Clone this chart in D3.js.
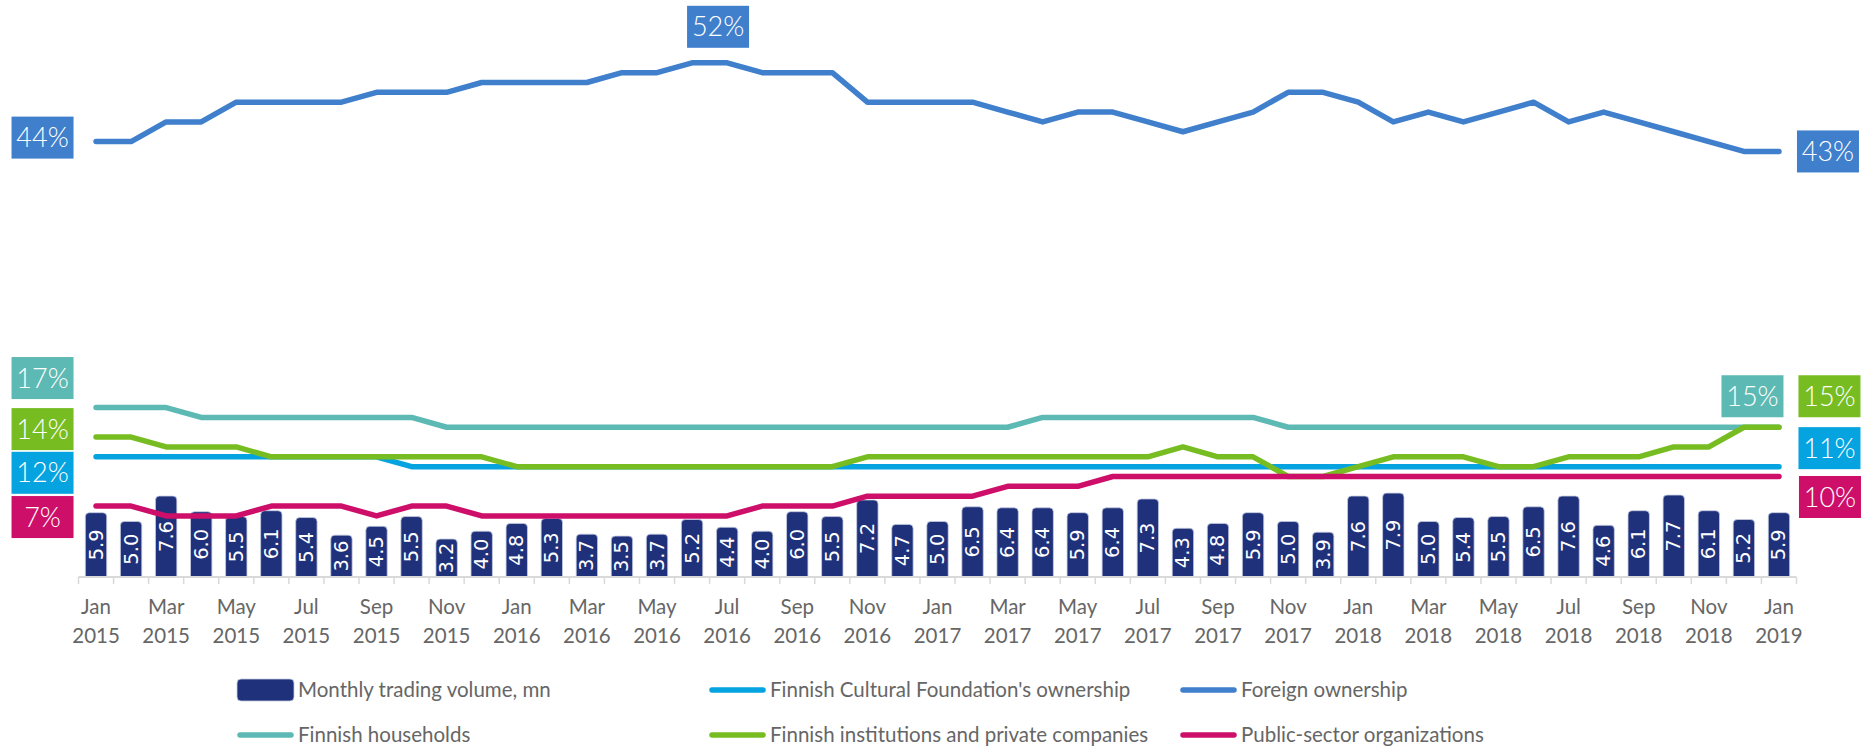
<!DOCTYPE html>
<html>
<head>
<meta charset="utf-8">
<script src="https://cdn.jsdelivr.net/npm/d3@7/dist/d3.min.js"></script>
<style>
  html,body{margin:0;padding:0;background:#fff;}
  svg{display:block;}
  .txt{font-family:Lato,"Open Sans",sans-serif;font-weight:400;}
  .box{font-family:Lato,"Open Sans",sans-serif;font-weight:300;}
</style>
</head>
<body>
<div id="chart"></div>
<script>
// months on the x axis
const months = [
  "Jan 2015","Feb 2015","Mar 2015","Apr 2015","May 2015","Jun 2015","Jul 2015","Aug 2015","Sep 2015","Oct 2015","Nov 2015","Dec 2015",
  "Jan 2016","Feb 2016","Mar 2016","Apr 2016","May 2016","Jun 2016","Jul 2016","Aug 2016","Sep 2016","Oct 2016","Nov 2016","Dec 2016",
  "Jan 2017","Feb 2017","Mar 2017","Apr 2017","May 2017","Jun 2017","Jul 2017","Aug 2017","Sep 2017","Oct 2017","Nov 2017","Dec 2017",
  "Jan 2018","Feb 2018","Mar 2018","Apr 2018","May 2018","Jun 2018","Jul 2018","Aug 2018","Sep 2018","Oct 2018","Nov 2018","Dec 2018",
  "Jan 2019"
];

// monthly trading volume, mn
const volume = [
  5.9,5.0,7.6,6.0,5.5,6.1,5.4,3.6,4.5,5.5,3.2,4.0,
  4.8,5.3,3.7,3.5,3.7,5.2,4.4,4.0,6.0,5.5,7.2,4.7,
  5.0,6.5,6.4,6.4,5.9,6.4,7.3,4.3,4.8,5.9,5.0,3.9,
  7.6,7.9,5.0,5.4,5.5,6.5,7.6,4.6,6.1,7.7,6.1,5.2,
  5.9
];

// ownership shares, %
const cultural = [
  12,12,12,12,12,12,12,12,12,11,11,11,
  11,11,11,11,11,11,11,11,11,11,11,11,
  11,11,11,11,11,11,11,11,11,11,11,11,
  11,11,11,11,11,11,11,11,11,11,11,11,
  11
];
const foreign = [
  44,44,46,46,48,48,48,48,49,49,49,50,
  50,50,50,51,51,52,52,51,51,51,48,48,
  48,48,47,46,47,47,46,45,46,47,49,49,
  48,46,47,46,47,48,46,47,46,45,44,43,
  43
];
const households = [
  17,17,17,16,16,16,16,16,16,16,15,15,
  15,15,15,15,15,15,15,15,15,15,15,15,
  15,15,15,16,16,16,16,16,16,16,15,15,
  15,15,15,15,15,15,15,15,15,15,15,15,
  15
];
const institutions = [
  14,14,13,13,13,12,12,12,12,12,12,12,
  11,11,11,11,11,11,11,11,11,11,12,12,
  12,12,12,12,12,12,12,13,12,12,10,10,
  11,12,12,12,11,11,12,12,12,13,13,15,
  15
];
const publicSector = [
  7,7,6,6,6,7,7,7,6,7,7,6,
  6,6,6,6,6,6,6,7,7,7,8,8,
  8,8,9,9,9,10,10,10,10,10,10,10,
  10,10,10,10,10,10,10,10,10,10,10,10,
  10
];

const series = [
  {name:"Finnish Cultural Foundation's ownership", values:cultural, color:"#05a3df"},
  {name:"Foreign ownership", values:foreign, color:"#3f7fcc"},
  {name:"Finnish households", values:households, color:"#5db9b3"},
  {name:"Finnish institutions and private companies", values:institutions, color:"#77bd22"},
  {name:"Public-sector organizations", values:publicSector, color:"#cd0f69"}
];
const barColor = "#20317b";

// value boxes: series index, month index, offset of the box from the point
const boxes = [
  {s:1, i:0,  dx:-53.5, dy:-4},
  {s:2, i:0,  dx:-53.5, dy:-29.5},
  {s:3, i:0,  dx:-53.5, dy:-8},
  {s:0, i:0,  dx:-53.5, dy:16},
  {s:4, i:0,  dx:-53.5, dy:11},
  {s:1, i:17, dx:26,    dy:-36},
  {s:1, i:48, dx:49,    dy:0},
  {s:2, i:48, dx:-26.5, dy:-31},
  {s:3, i:48, dx:50.5,  dy:-31},
  {s:0, i:48, dx:50.5,  dy:-18.5},
  {s:4, i:48, dx:51,    dy:20.5}
];

const width = 1876, height = 748;
const svg = d3.select("#chart").append("svg")
  .attr("width", width)
  .attr("height", height);

const x = d3.scaleBand()
  .domain(months)
  .range([78.5, 1796.5])
  .padding(0);
const cx = m => x(m) + x.bandwidth()/2;

const axisY = 577;
const yPct = d3.scaleLinear().domain([0, 50]).range([575, 82.5]);
const yVol = d3.scaleLinear().domain([0, 10]).range([570.3, 472.6]);

// bars with rounded tops
const barW = x.bandwidth() * 0.61;
function barPath(x0, y0, w, y1, r) {
  return `M${x0},${y1}V${y0+r}Q${x0},${y0} ${x0+r},${y0}H${x0+w-r}Q${x0+w},${y0} ${x0+w},${y0+r}V${y1}Z`;
}

const bars = svg.append("g");
bars.selectAll("path")
  .data(volume)
  .join("path")
  .attr("d", (d,i) => barPath(cx(months[i]) - barW/2, yVol(d), barW, axisY, 4))
  .attr("fill", barColor)
  .attr("stroke", "#c5cbe0")
  .attr("stroke-width", 0.8);

bars.selectAll("text")
  .data(volume)
  .join("text")
  .attr("transform", (d,i) => `translate(${cx(months[i])},${(yVol(d)+axisY)/2}) rotate(-90)`)
  .attr("text-anchor", "middle")
  .attr("dominant-baseline", "central")
  .attr("fill", "#fff")
  .style("font-family", "'DejaVu Sans',sans-serif")
  .style("font-size", "19.5px")
  .text(d => d.toFixed(1));

// x axis line and tick marks between months
svg.append("line")
  .attr("x1", x.range()[0]).attr("x2", x.range()[1])
  .attr("y1", axisY).attr("y2", axisY)
  .attr("stroke", "#d9d9d9").attr("stroke-width", 2);

svg.append("g")
  .selectAll("line")
  .data(months.concat([null]))
  .join("line")
  .attr("x1", (m) => m ? x(m) : x.range()[1])
  .attr("x2", (m) => m ? x(m) : x.range()[1])
  .attr("y1", axisY).attr("y2", axisY + 7)
  .attr("stroke", "#d9d9d9").attr("stroke-width", 1.5);

const xAxis = svg.append("g")
  .attr("transform", `translate(0,${axisY})`)
  .call(d3.axisBottom(x).tickSize(0).tickFormat((m,i) => i % 2 === 0 ? m : ""));
xAxis.select(".domain").remove();
xAxis.selectAll("text")
  .attr("class", "txt")
  .attr("fill", "#666")
  .style("font-size", "20.5px")
  .each(function(m, i) {
    const t = d3.select(this);
    const parts = i % 2 === 0 ? m.split(" ") : [];
    t.text(null).attr("y", 0).attr("dy", null);
    parts.forEach((p, k) => {
      t.append("tspan").attr("x", 0).attr("y", k === 0 ? 37 : 66).text(p);
    });
  });

// ownership lines
const line = d3.line()
  .x((d,i) => cx(months[i]))
  .y(d => yPct(d));

svg.append("g")
  .selectAll("path")
  .data(series)
  .join("path")
  .attr("d", s => line(s.values))
  .attr("fill", "none")
  .attr("stroke", s => s.color)
  .attr("stroke-width", 5.5)
  .attr("stroke-linecap", "round")
  .attr("stroke-linejoin", "round");

// value boxes
const bw = 62, bh = 42;
const bg = svg.append("g")
  .selectAll("g")
  .data(boxes)
  .join("g")
  .attr("transform", b => {
    const s = series[b.s];
    return `translate(${cx(months[b.i]) + b.dx},${yPct(s.values[b.i]) + b.dy})`;
  });
bg.append("rect")
  .attr("x", -bw/2).attr("y", -bh/2)
  .attr("width", bw).attr("height", bh)
  .attr("fill", b => series[b.s].color);
bg.append("text")
  .attr("class", "box")
  .attr("text-anchor", "middle")
  .attr("y", 9.5)
  .attr("fill", "#fff")
  .style("font-size", "27px")
  .text(b => series[b.s].values[b.i] + "%");

// legend
const legendItems = [
  {name:"Monthly trading volume, mn", color:barColor, bar:true},
  series[0], series[1], series[2], series[3], series[4]
];
const legendX = [237, 709, 1180];
const legendY = [690, 735];
const lg = svg.append("g")
  .selectAll("g")
  .data(legendItems)
  .join("g")
  .attr("transform", (d,i) => `translate(${legendX[i % 3]},${legendY[Math.floor(i / 3)]})`);
lg.each(function(d) {
  const g = d3.select(this);
  if (d.bar) {
    g.append("rect")
      .attr("x", 0).attr("y", -11)
      .attr("width", 57).attr("height", 22)
      .attr("rx", 4)
      .attr("fill", d.color)
      .attr("stroke", "#c5cbe0").attr("stroke-width", 0.8);
  } else {
    g.append("line")
      .attr("x1", 3).attr("x2", 54)
      .attr("y1", 0).attr("y2", 0)
      .attr("stroke", d.color)
      .attr("stroke-width", 5.5)
      .attr("stroke-linecap", "round");
  }
  g.append("text")
    .attr("class", "txt")
    .attr("x", 61)
    .attr("y", 7)
    .attr("fill", "#666")
    .style("font-size", "20.5px")
    .text(d.name);
});
</script>
</body>
</html>
